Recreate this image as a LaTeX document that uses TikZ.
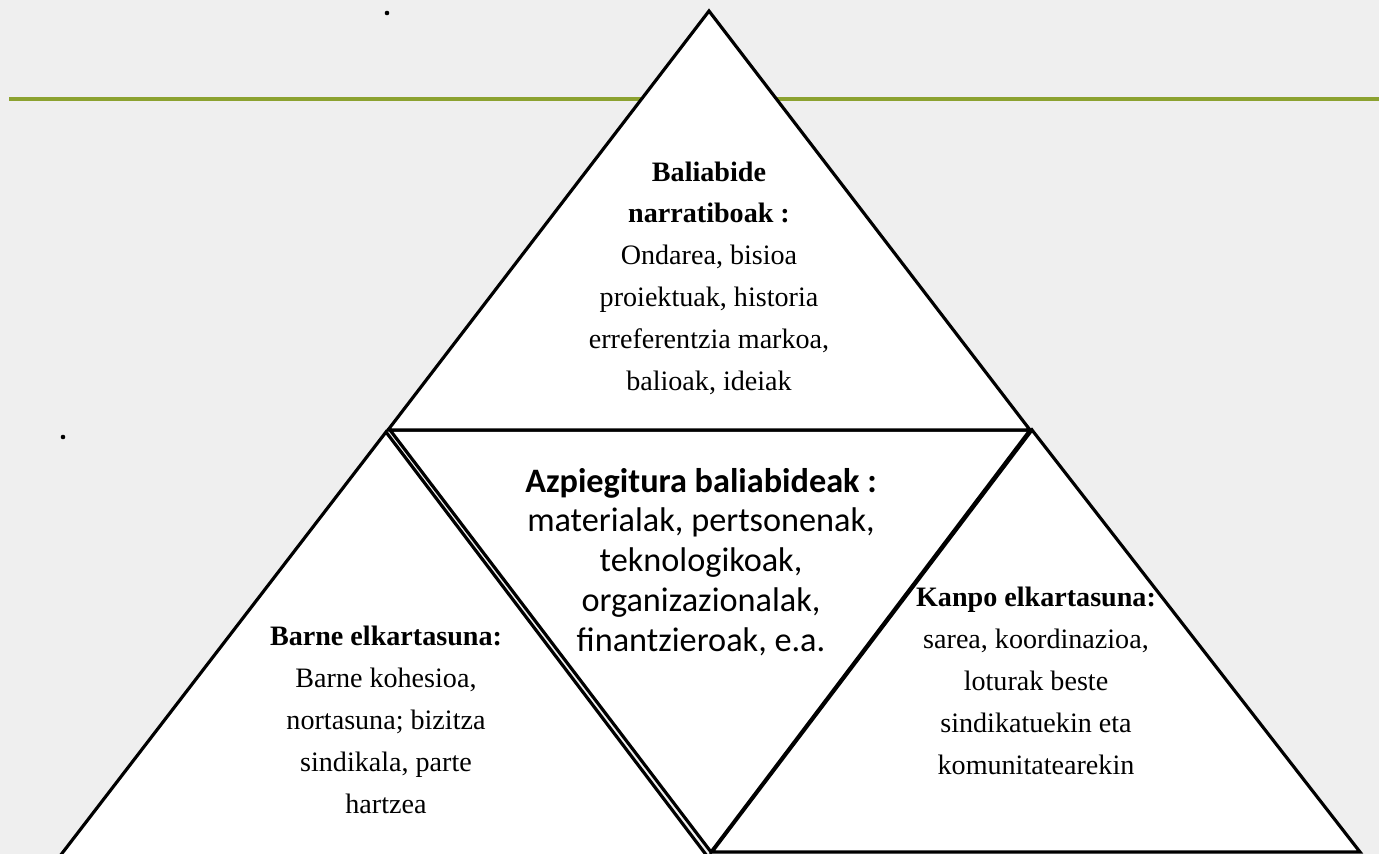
\documentclass[tikz,border=0pt]{standalone}
\usepackage{fontspec}
\setmainfont{Liberation Serif}
\newfontfamily\calibri{Carlito}
\definecolor{slidegreen}{RGB}{140,162,48}
\definecolor{slidegray}{RGB}{239,239,239}

\begin{document}
\begin{tikzpicture}[x=0.02cm, y=-0.02cm,
  tri/.style={draw=black, line width=1.8pt, fill=white, line join=miter},
  serif text/.style={align=center, font=\fontsize{16}{23.8}\selectfont},
  sans text/.style={align=center, font=\calibri\fontsize{19.5}{22.7}\selectfont},
  speck/.style={circle, fill=black, inner sep=0pt, minimum size=2.6pt}]
	\useasboundingbox (0, 0) rectangle (1379, 854);
	\clip (0, 0) rectangle (1379, 854);
	\fill [slidegray] (0, 0) rectangle (1379, 854);

	% green rule at the top
	\draw [slidegreen, line width=2.2pt] (9, 99) -- (1379, 99);
	\node [speck] (dota) at (387, 13) {};
	\node [speck] (dotb) at (63, 437) {};

	% bottom left: barne elkartasuna
	\draw [tri] (386, 432) -- (707, 856) -- (60, 856) -- cycle;
	\node [serif text] (barne) at (386, 720)
	{\textbf{Barne elkartasuna:}\\Barne kohesioa,\\nortasuna; bizitza\\sindikala, parte\\hartzea};

	% bottom right: kanpo elkartasuna
	\draw [tri] (1032, 430) -- (1360, 852) -- (712, 852) -- cycle;
	\node [serif text] (kanpo) at (1036, 681)
	{\textbf{Kanpo elkartasuna:}\\sarea, koordinazioa,\\loturak beste\\sindikatuekin eta\\komunitatearekin};

	% middle: azpiegitura
	\draw [tri] (390, 430) -- (1030, 430) -- (711, 852) -- cycle;
	\node [sans text] (azpi) at (701, 562)
	{\textbf{Azpiegitura baliabideak :}\\materialak, pertsonenak,\\teknologikoak,\\organizazionalak,\\finantzieroak, e.a.};

	% top: baliabide narratiboak
	\draw [tri] (709, 11) -- (1030, 430) -- (388, 430) -- cycle;
	\node [serif text] (narra) at (709, 278)
	{\textbf{Baliabide}\\\textbf{narratiboak :}\\Ondarea, bisioa\\proiektuak, historia\\erreferentzia markoa,\\balioak, ideiak};
\end{tikzpicture}
\end{document}
